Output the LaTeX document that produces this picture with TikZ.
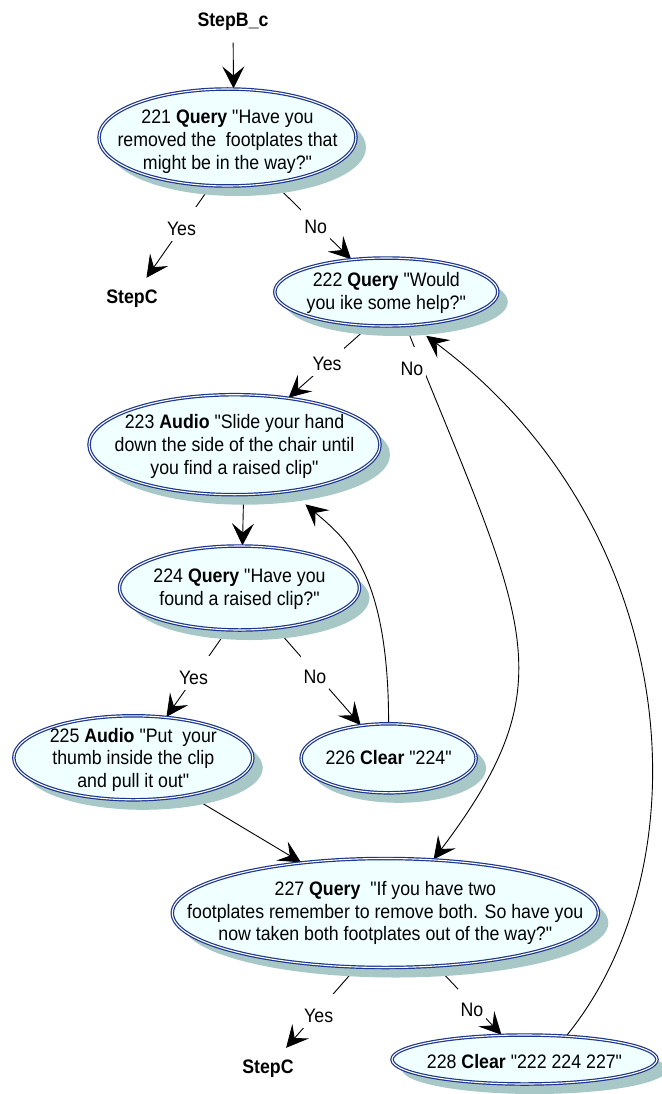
\documentclass[tikz,border=0pt]{standalone}
\usepackage{fontspec}
\setmainfont{Liberation Sans}[FakeStretch=0.91, Ligatures=TeXOff]
\usetikzlibrary{shapes.geometric,shadows,arrows.meta}
\definecolor{stline}{RGB}{28,52,140}
\definecolor{stfill}{RGB}{240,255,255}
\definecolor{stshade}{RGB}{168,200,200}
\pgfdeclarelayer{background}
\pgfsetlayers{background,main}

\begin{document}
\begin{tikzpicture}[x=1pt,y=-1pt,
    every node/.style={font=\fontsize{19.5}{22.8}\selectfont},
    st/.style={ellipse, draw=stline, line width=1.2pt, double=white, double distance=1.1pt,
      fill=stfill, drop shadow={shadow xshift=10pt,shadow yshift=-10pt,fill=stshade,opacity=1},
      inner sep=0pt},
    stxt/.style={align=center},
    term/.style={font=\fontsize{19.5}{22.8}\selectfont\bfseries, text height=13pt, text depth=4pt,
      inner xsep=3pt, inner ysep=12pt},
    lbl/.style={fill=white, text height=25pt, text depth=3pt, inner xsep=3pt, inner ysep=3pt},
    arr/.style={-{Stealth[length=22pt,width=22pt,inset=9pt]}, line width=0.9pt}]
        \useasboundingbox (0,0) rectangle (661,1094);
        \node[term] (sb) at (233,22) {StepB\_c};
        \node[st, minimum width=257pt, minimum height=97pt,
          label={[stxt,yshift=-4pt]center:{221 \textbf{Query} "Have you\\removed the\ \ footplates that\\might be in the way?"}}]
          (q221) at (227.5,137.5) {};
        \node[term] (sc1) at (132,298.5) {StepC};
        \node[st, minimum width=223pt, minimum height=68pt,
          label={[stxt,yshift=-1pt]center:{222 \textbf{Query} "Would\\you ike some help?"}}]
          (q222) at (386.3,292) {};
        \node[st, minimum width=291pt, minimum height=100pt,
          label={[stxt,yshift=-2pt]center:{223 \textbf{Audio} "Slide your hand\\down the side of the chair until\\you find a raised clip"}}]
          (q223) at (234.5,444.7) {};
        \node[st, minimum width=240pt, minimum height=84pt,
          label={[stxt,yshift=-1pt]center:{224 \textbf{Query} "Have you\\found a raised clip?"}}]
          (q224) at (239.5,588) {};
        \node[st, minimum width=239pt, minimum height=84pt,
          label={[stxt,yshift=-2pt]center:{225 \textbf{Audio} "Put\ \ your\\thumb inside the clip\\and pull it out"}}]
          (q225) at (133.3,757.8) {};
        \node[st, minimum width=175pt, minimum height=69pt,
          label={[stxt,yshift=1pt]center:{226 \textbf{Clear} "224"}}]
          (q226) at (388.6,758.3) {};
        \node[st, minimum width=426pt, minimum height=109pt,
          label={[stxt]center:{227 \textbf{Query}\ \ "If you have two\\footplates remember to remove both. So have you\\now taken both footplates out of the way?"}}]
          (q227) at (385.3,913) {};
        \node[term] (sc2) at (268,1068.5) {StepC};
        \node[st, minimum width=265pt, minimum height=49pt,
          label={[stxt,yshift=-2pt]center:{228 \textbf{Clear} "222 224 227"}}]
          (q228) at (524.5,1059.5) {};
        \node[lbl] (y221) at (181.5,224) {Yes};
        \node[lbl] (n221) at (315.7,222) {No};
        \node[lbl] (y222) at (327,359) {Yes};
        \node[lbl] (n222) at (412,364) {No};
        \node[lbl] (y224) at (193.5,673) {Yes};
        \node[lbl] (n224) at (315,672) {No};
        \node[lbl] (y227) at (318.7,1011) {Yes};
        \node[lbl] (n227) at (472,1005.7) {No};
        \begin{pgfonlayer}{background}
        \draw[arr] (sb) -- (q221.83);
        \draw[arr] ([shift={(10,10)}]q221.center) -- (sc1);
        \draw[arr] ([shift={(10,10)}]q221.center) -- (q222.137);
        \draw[arr] ([shift={(10,10)}]q222.center) -- (q223.41);
        \draw[arr] ([shift={(10,10)}]q222.center) .. controls (522,619) and (573.5,674) .. (q227.48);
        \draw[arr] ([shift={(10,10)}]q223.center) -- (q224.86);
        \draw[arr] ([shift={(10,10)}]q224.center) -- (q225.51);
        \draw[arr] ([shift={(10,10)}]q224.center) -- (q226.130);
        \draw[arr, shorten >=20pt] (q226.north) .. controls (388.6,571.6) and (345.7,538.5) .. (q223.-40);
        \draw[arr] ([shift={(10,10)}]q225.center) -- (q227.149);
        \draw[arr] ([shift={(10,10)}]q227.center) -- (sc2);
        \draw[arr] ([shift={(10,10)}]q227.center) -- (q228.133);
        \draw[arr, shorten >=17pt] ([shift={(10,10)}]q228.center) .. controls (710,910) and (700,540) .. (q222.-52); % back to 222
        \end{pgfonlayer}
\end{tikzpicture}
\end{document}
